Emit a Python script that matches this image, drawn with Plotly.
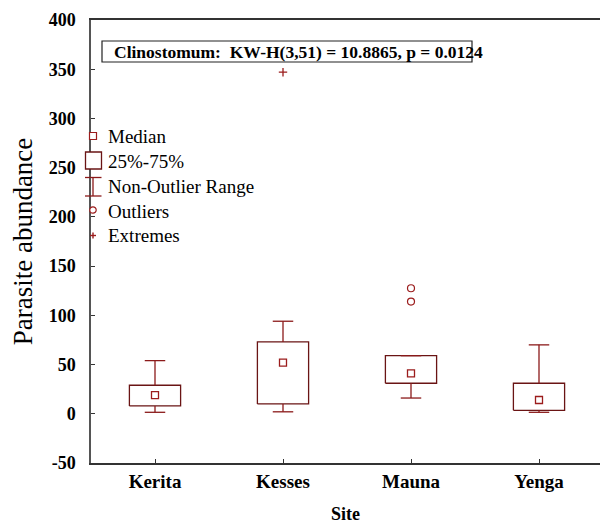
import plotly.graph_objects as go

# Clinostomum abundance by site (box = quartiles, whiskers = non-outlier range)
sites = ["Kerita", "Kesses", "Mauna", "Yenga"]
q1 = [8, 10, 31, 3.5]
median = [19, 52, 41, 14]
q3 = [29, 73, 59, 31]
whisk_low = [1.5, 2, 16, 1.5]
whisk_high = [54, 94, 59, 70]
outlier_site = ["Mauna", "Mauna"]
outlier_val = [114, 127.5]
extreme_site = ["Kesses"]
extreme_val = [347]

y_ticks = [-50, 0, 50, 100, 150, 200, 250, 300, 350, 400]

BOX_COL = "#6a1414"
WHISK_COL = "#8b1a1a"
MARK_COL = "#9b1c1c"
SERIF = "Liberation Serif, Times New Roman, serif"

W, H = 600, 524
ML, MR, MT, MB = 91, 0, 20, 61
half_box = 0.2
half_cap = 0.08

idx = {s: i for i, s in enumerate(sites)}

fig = go.Figure()

# boxes
bx, by = [], []
for i in range(len(sites)):
    bx += [i - half_box, i + half_box, i + half_box, i - half_box, i - half_box, None]
    by += [q1[i], q1[i], q3[i], q3[i], q1[i], None]
fig.add_trace(go.Scatter(x=bx, y=by, mode="lines",
                         line=dict(color=BOX_COL, width=1.3), hoverinfo="skip"))

# whiskers and caps
wx, wy = [], []
for i in range(len(sites)):
    wx += [i, i, None, i, i, None]
    wy += [q3[i], whisk_high[i], None, q1[i], whisk_low[i], None]
    wx += [i - half_cap, i + half_cap, None, i - half_cap, i + half_cap, None]
    wy += [whisk_high[i], whisk_high[i], None, whisk_low[i], whisk_low[i], None]
fig.add_trace(go.Scatter(x=wx, y=wy, mode="lines",
                         line=dict(color=WHISK_COL, width=1.3), hoverinfo="skip"))

# medians
fig.add_trace(go.Scatter(x=list(range(len(sites))), y=median, mode="markers",
                         marker=dict(symbol="square-open", size=7,
                                     color=MARK_COL, line=dict(width=1.3))))
# outliers
fig.add_trace(go.Scatter(x=[idx[s] for s in outlier_site], y=outlier_val, mode="markers",
                         marker=dict(symbol="circle-open", size=7,
                                     color=MARK_COL, line=dict(width=1.2))))
# extremes
fig.add_trace(go.Scatter(x=[idx[s] for s in extreme_site], y=extreme_val, mode="markers",
                         marker=dict(symbol="cross-thin", size=6,
                                     color=MARK_COL, line=dict(width=1.3, color=MARK_COL))))

pw = W - ML - MR
ph = H - MT - MB


def px(X):
    return (X - ML) / pw


def py(Y):
    return (H - MB - Y) / ph


shapes = []
annots = []

# statistic box
shapes.append(dict(type="rect", xref="paper", yref="paper",
                   x0=px(102), x1=px(472), y0=py(62), y1=py(41),
                   line=dict(color="#222", width=1.2), fillcolor="white", layer="above"))
annots.append(dict(xref="paper", yref="paper", x=px(112), y=py(52),
                   text="<b>Clinostomum:  KW-H(3,51) = 10.8865, p = 0.0124</b>",
                   showarrow=False, xanchor="left", yanchor="middle",
                   font=dict(family=SERIF, size=17.5, color="black")))

# key
cx = 93
shapes.append(dict(type="rect", xref="paper", yref="paper",
                   x0=px(cx - 3.5), x1=px(cx + 3.5), y0=py(139.5), y1=py(132.5),
                   line=dict(color=MARK_COL, width=1.2), fillcolor="white", layer="above"))
shapes.append(dict(type="rect", xref="paper", yref="paper",
                   x0=px(85.5), x1=px(101.5), y0=py(169), y1=py(152),
                   line=dict(color=BOX_COL, width=1.3), fillcolor="white", layer="above"))
for (x0, y0, x1, y1) in [(85, 177.5, 101.5, 177.5), (85, 196, 101.5, 196), (cx, 177.5, cx, 196)]:
    shapes.append(dict(type="line", xref="paper", yref="paper",
                       x0=px(x0), x1=px(x1), y0=py(y0), y1=py(y1),
                       line=dict(color=WHISK_COL, width=1.3), layer="above"))
shapes.append(dict(type="circle", xref="paper", yref="paper",
                   x0=px(cx - 3.2), x1=px(cx + 3.2), y0=py(213.2), y1=py(206.8),
                   line=dict(color=MARK_COL, width=1.2), fillcolor="white", layer="above"))
for (x0, y0, x1, y1) in [(cx - 3, 235.5, cx + 3, 235.5), (cx, 232.5, cx, 238.5)]:
    shapes.append(dict(type="line", xref="paper", yref="paper",
                       x0=px(x0), x1=px(x1), y0=py(y0), y1=py(y1),
                       line=dict(color=MARK_COL, width=1.4), layer="above"))

key_labels = [("Median", 136), ("25%-75%", 161), ("Non-Outlier Range", 186),
              ("Outliers", 211), ("Extremes", 236)]
for txt, yy in key_labels:
    annots.append(dict(xref="paper", yref="paper", x=px(106), y=py(yy), text=txt,
                       showarrow=False, xanchor="left", yanchor="middle",
                       font=dict(family=SERIF, size=19, color="black")))

fig.update_layout(
    width=W, height=H,
    margin=dict(l=ML, r=MR, t=MT, b=MB, pad=0),
    paper_bgcolor="white", plot_bgcolor="white",
    showlegend=False,
    shapes=shapes, annotations=annots,
    font=dict(family=SERIF, color="black"),
)
fig.update_xaxes(
    range=[-0.5, -0.5 + pw / 128.0],
    tickvals=list(range(len(sites))), ticktext=[f"<b>{s}</b>" for s in sites],
    tickfont=dict(family=SERIF, size=19, color="black"),
    showgrid=False, zeroline=False,
    showline=True, linecolor="#333", linewidth=1.5, mirror=True,
    ticks="inside", ticklen=4, tickcolor="#333",
    title=dict(text="<b>Site</b>", font=dict(family=SERIF, size=18, color="black"), standoff=18),
)
fig.update_yaxes(
    range=[-50, 400],
    tickvals=y_ticks, ticktext=[f"<b>{v}</b>" for v in y_ticks],
    tickfont=dict(family=SERIF, size=18, color="black"),
    ticklabelstandoff=10,
    showgrid=False, zeroline=False,
    showline=True, linecolor="#555", linewidth=1.5,
    ticks="inside", ticklen=4, tickcolor="#333",
    title=dict(text="Parasite abundance", font=dict(family=SERIF, size=27, color="black"), standoff=8),
)

fig.write_html("out.html")
